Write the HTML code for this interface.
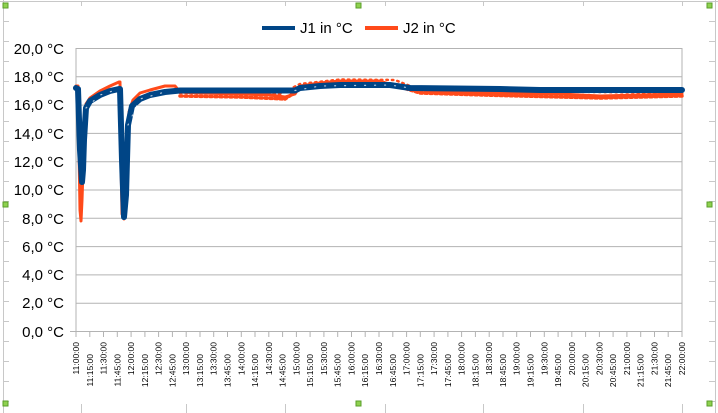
<!DOCTYPE html>
<html><head><meta charset="utf-8"><style>
html,body{margin:0;padding:0;background:#fff;}
svg{display:block;font-family:"Liberation Sans",sans-serif;}
</style></head><body>
<svg width="718" height="413" viewBox="0 0 718 413" xmlns="http://www.w3.org/2000/svg">
<g stroke="#c8c8c8" stroke-width="1" fill="none">
<line x1="0" y1="1.5" x2="718" y2="1.5"/>
<line x1="3.5" y1="0" x2="3.5" y2="413"/>
<line x1="715.5" y1="0" x2="715.5" y2="413"/>
<path d="M81.5 1V6M186.5 1V6M285.5 1V6M385.5 1V6M483.5 1V6M583.5 1V6M682.5 1V6"/>
<path d="M81.5 404V413M186.5 404V413M285.5 404V413M385.5 404V413M483.5 404V413M583.5 404V413M682.5 404V413"/>
<path d="M3 21.5H9M3 41.5H9M3 61.5H9M3 81.5H9M3 101.5H9M3 121.5H9M3 141.5H9M3 161.5H9M3 181.5H9M3 201.5H9M3 221.5H9M3 241.5H9M3 261.5H9M3 281.5H9M3 301.5H9M3 321.5H9M3 341.5H9M3 361.5H9M3 381.5H9M3 401.5H9"/>
<path d="M709 21.5H716M709 41.5H716M709 61.5H716M709 81.5H716M709 101.5H716M709 121.5H716M709 141.5H716M709 161.5H716M709 181.5H716M709 201.5H716M709 221.5H716M709 241.5H716M709 261.5H716M709 281.5H716M709 301.5H716M709 321.5H716M709 341.5H716M709 361.5H716M709 381.5H716M709 401.5H716"/>
</g>
<g fill="#8fd14f" stroke="#5a9e2a" stroke-width="1">
<rect x="3" y="3" width="5" height="5"/><rect x="356" y="3" width="5" height="5"/><rect x="707" y="3" width="5" height="5"/>
<rect x="3" y="202" width="5" height="5"/><rect x="707" y="202" width="5" height="5"/>
<rect x="3" y="401" width="5" height="5"/><rect x="356" y="401" width="5" height="5"/><rect x="707" y="401" width="5" height="5"/>
</g>
<g stroke="#b3b3b3" stroke-width="1">
<line x1="76" y1="48.5" x2="682" y2="48.5"/>
<line x1="76" y1="76.8" x2="682" y2="76.8"/>
<line x1="76" y1="105.1" x2="682" y2="105.1"/>
<line x1="76" y1="133.4" x2="682" y2="133.4"/>
<line x1="76" y1="161.7" x2="682" y2="161.7"/>
<line x1="76" y1="190" x2="682" y2="190"/>
<line x1="76" y1="218.3" x2="682" y2="218.3"/>
<line x1="76" y1="246.6" x2="682" y2="246.6"/>
<line x1="76" y1="274.9" x2="682" y2="274.9"/>
<line x1="76" y1="303.2" x2="682" y2="303.2"/>
<line x1="70" y1="331.5" x2="682" y2="331.5"/>
<line x1="76" y1="48" x2="76" y2="337"/>
<line x1="682" y1="48" x2="682" y2="337"/>
</g>
<g stroke="#b3b3b3" stroke-width="1">
<path d="M89.8 331V337M103.5 331V337M117.3 331V337M131.1 331V337M144.9 331V337M158.6 331V337M172.4 331V337M186.2 331V337M200 331V337M213.7 331V337M227.5 331V337M241.3 331V337M255 331V337M268.8 331V337M282.6 331V337M296.4 331V337M310.1 331V337M323.9 331V337M337.7 331V337M351.5 331V337M365.2 331V337M379 331V337M392.8 331V337M406.6 331V337M420.3 331V337M434.1 331V337M447.9 331V337M461.6 331V337M475.4 331V337M489.2 331V337M503 331V337M516.7 331V337M530.5 331V337M544.3 331V337M558.1 331V337M571.8 331V337M585.6 331V337M599.4 331V337M613.1 331V337M626.9 331V337M640.7 331V337M654.5 331V337M668.2 331V337"/>
</g>
<g font-size="15" fill="#000" text-anchor="end">
<text x="64" y="54">20,0 °C</text>
<text x="64" y="82">18,0 °C</text>
<text x="64" y="110">16,0 °C</text>
<text x="64" y="139">14,0 °C</text>
<text x="64" y="167">12,0 °C</text>
<text x="64" y="195">10,0 °C</text>
<text x="64" y="224">8,0 °C</text>
<text x="64" y="252">6,0 °C</text>
<text x="64" y="280">4,0 °C</text>
<text x="64" y="308">2,0 °C</text>
<text x="64" y="337">0,0 °C</text>
</g>
<g font-size="8.5" fill="#000" text-anchor="end">
<text transform="translate(79,342) rotate(-90)">11:00:00</text>
<text transform="translate(92.8,354) rotate(-90)">11:15:00</text>
<text transform="translate(106.5,342) rotate(-90)">11:30:00</text>
<text transform="translate(120.3,354) rotate(-90)">11:45:00</text>
<text transform="translate(134.1,342) rotate(-90)">12:00:00</text>
<text transform="translate(147.9,354) rotate(-90)">12:15:00</text>
<text transform="translate(161.6,342) rotate(-90)">12:30:00</text>
<text transform="translate(175.4,354) rotate(-90)">12:45:00</text>
<text transform="translate(189.2,342) rotate(-90)">13:00:00</text>
<text transform="translate(203,354) rotate(-90)">13:15:00</text>
<text transform="translate(216.7,342) rotate(-90)">13:30:00</text>
<text transform="translate(230.5,354) rotate(-90)">13:45:00</text>
<text transform="translate(244.3,342) rotate(-90)">14:00:00</text>
<text transform="translate(258,354) rotate(-90)">14:15:00</text>
<text transform="translate(271.8,342) rotate(-90)">14:30:00</text>
<text transform="translate(285.6,354) rotate(-90)">14:45:00</text>
<text transform="translate(299.4,342) rotate(-90)">15:00:00</text>
<text transform="translate(313.1,354) rotate(-90)">15:15:00</text>
<text transform="translate(326.9,342) rotate(-90)">15:30:00</text>
<text transform="translate(340.7,354) rotate(-90)">15:45:00</text>
<text transform="translate(354.5,342) rotate(-90)">16:00:00</text>
<text transform="translate(368.2,354) rotate(-90)">16:15:00</text>
<text transform="translate(382,342) rotate(-90)">16:30:00</text>
<text transform="translate(395.8,354) rotate(-90)">16:45:00</text>
<text transform="translate(409.6,342) rotate(-90)">17:00:00</text>
<text transform="translate(423.3,354) rotate(-90)">17:15:00</text>
<text transform="translate(437.1,342) rotate(-90)">17:30:00</text>
<text transform="translate(450.9,354) rotate(-90)">17:45:00</text>
<text transform="translate(464.6,342) rotate(-90)">18:00:00</text>
<text transform="translate(478.4,354) rotate(-90)">18:15:00</text>
<text transform="translate(492.2,342) rotate(-90)">18:30:00</text>
<text transform="translate(506,354) rotate(-90)">18:45:00</text>
<text transform="translate(519.7,342) rotate(-90)">19:00:00</text>
<text transform="translate(533.5,354) rotate(-90)">19:15:00</text>
<text transform="translate(547.3,342) rotate(-90)">19:30:00</text>
<text transform="translate(561.1,354) rotate(-90)">19:45:00</text>
<text transform="translate(574.8,342) rotate(-90)">20:00:00</text>
<text transform="translate(588.6,354) rotate(-90)">20:15:00</text>
<text transform="translate(602.4,342) rotate(-90)">20:30:00</text>
<text transform="translate(616.1,354) rotate(-90)">20:45:00</text>
<text transform="translate(629.9,342) rotate(-90)">21:00:00</text>
<text transform="translate(643.7,354) rotate(-90)">21:15:00</text>
<text transform="translate(657.5,342) rotate(-90)">21:30:00</text>
<text transform="translate(671.2,354) rotate(-90)">21:45:00</text>
<text transform="translate(685,342) rotate(-90)">22:00:00</text>
</g>
<g fill="none" stroke-linejoin="round" stroke-linecap="round">
<path stroke="#ff4a1a" stroke-width="3" d="M76 86 L78 86 L79 150 L80 210 L81 221 L82 200 L83 170 L84 130 L86 104 L90 98 L100 91 L110 86 L119 82 L120 82 L121 160 L122 214 L124 219 L126 200 L127 150 L129 112 L133 100 L140 93 L150 90 L165 86 L175 86 L180 92 L200 93 L240 94 L270 95 L285 97 L295 94 L300 86 L320 83 L340 81 L380 81 L400 88 L430 91 L500 93 L560 94 L600 96 L640 95 L682 94"/>
<path stroke="#ff4a1a" stroke-width="3.5" stroke-dasharray="2 3" d="M180 96 L240 97 L285 99 L300 89 L330 84 L390 84 L420 93 L500 95.5 L600 98 L682 96"/>
<path stroke="#ff4a1a" stroke-width="2.5" stroke-dasharray="1.5 4" d="M180 93 L280 94 L300 84 L340 79.5 L395 80 L420 90 L682 93"/>
<path stroke="#004586" stroke-width="6" d="M76 88 L78 89 L80 150 L82 182 L83 170 L84 140 L86 108 L90 101 L100 95 L110 91 L119 89 L120 89 L122 160 L124 217 L126 195 L128 125 L132 106 L140 99 L150 95 L165 92 L180 90.5 L295 90.5 L300 88 L320 86 L340 85 L390 85 L410 88 L500 89 L540 90 L682 90"/>
<path stroke="#ffffff" stroke-width="1.2" stroke-dasharray="1 9" opacity="0.7" d="M86 108 L100 95 L119 89 M128 125 L140 99 L165 92 M295 90.5 L320 86 L390 85 L410 88"/>
</g>
<line x1="262" y1="28" x2="295" y2="28" stroke="#004586" stroke-width="4"/>
<text x="300" y="33" font-size="15">J1 in °C</text>
<line x1="365" y1="28" x2="398" y2="28" stroke="#ff4a1a" stroke-width="4"/>
<text x="403" y="33" font-size="15">J2 in °C</text>
</svg>
</body></html>
